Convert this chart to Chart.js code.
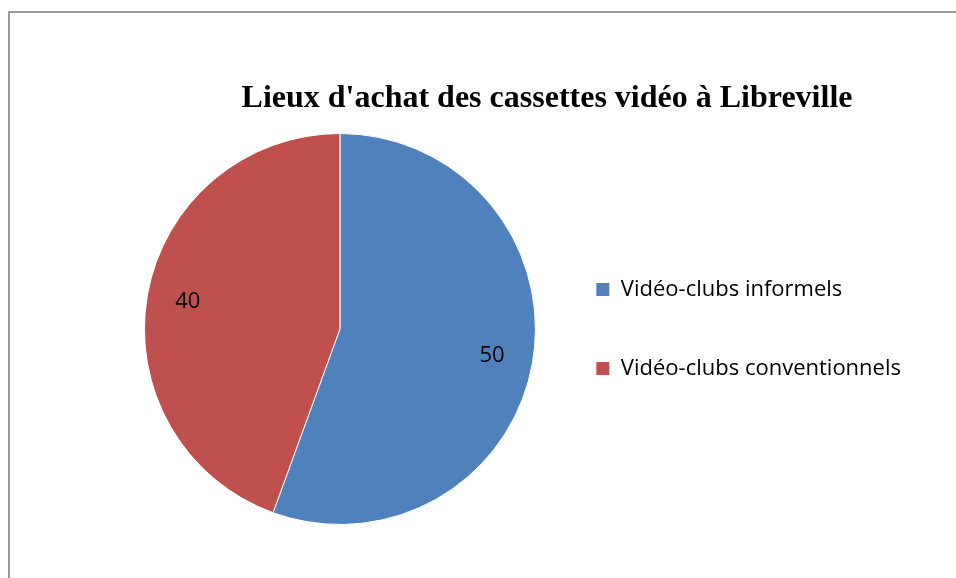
<!DOCTYPE html>
<html>
<head>
<meta charset="utf-8">
<script src="https://cdn.jsdelivr.net/npm/chart.js@4.4.1/dist/chart.umd.min.js"></script>
<style>
  html, body { margin: 0; padding: 0; background: #fff; overflow: hidden; }
  #frame { position: absolute; left: 8px; top: 11px; width: 1200px; height: 1000px; border: 2px solid #9a9a9a; }
  #wrap { position: absolute; left: 0; top: 0; width: 956px; height: 578px; }
</style>
</head>
<body>
<div id="frame"></div>
<div id="wrap"><canvas id="pieCanvas"></canvas></div>
<script>
// Lieux d'achat des cassettes vidéo à Libreville
const titre = "Lieux d'achat des cassettes vidéo à Libreville";
const categories = ['Vidéo-clubs informels', 'Vidéo-clubs conventionnels'];
const valeurs = [50, 40];
const couleurs = ['#4F81BD', '#C0504D'];

// étiquettes de valeur posées dans chaque part
const valeursPlugin = {
  id: 'valeursPlugin',
  afterDatasetsDraw(chart) {
    const ctx = chart.ctx;
    const meta = chart.getDatasetMeta(0);
    ctx.save();
    ctx.font = '22px "Open Sans"';
    ctx.fillStyle = '#000';
    ctx.textAlign = 'center';
    ctx.textBaseline = 'middle';
    meta.data.forEach((arc, i) => {
      const p = arc.getProps(['x', 'y', 'startAngle', 'endAngle', 'outerRadius']);
      const mid = (p.startAngle + p.endAngle) / 2;
      const r = p.outerRadius * 0.79;
      ctx.fillText(String(valeurs[i]), p.x + Math.cos(mid) * r, p.y + Math.sin(mid) * r);
    });
    ctx.restore();
  }
};

// boîte vide à droite de la légende (le cadre du graphique continue au-delà)
const espaceDroit = {
  id: 'espaceDroit',
  start(chart) {
    Chart.layouts.addBox(chart, {
      position: 'right',
      weight: 1500,
      fullSize: false,
      options: { display: false },
      isHorizontal() { return false; },
      update(maxWidth, maxHeight) { this.width = 42; this.height = maxHeight; },
      draw() {}
    });
  }
};

const ctx = document.getElementById('pieCanvas').getContext('2d');
new Chart(ctx, {
  type: 'pie',
  data: {
    labels: categories,
    datasets: [{
      data: valeurs,
      backgroundColor: couleurs,
      borderColor: '#ffffff',
      borderWidth: 1
    }]
  },
  options: {
    responsive: true,
    maintainAspectRatio: false,
    animation: false,
    layout: { padding: { left: 141, right: 3, top: 0, bottom: 53 } },
    plugins: {
      title: {
        display: true,
        text: titre,
        color: '#000',
        font: { family: 'Liberation Serif', size: 32, weight: 'bold' },
        padding: { top: 80, bottom: 14.6 }
      },
      legend: {
        position: 'right',
        fullSize: false,
        labels: {
          color: '#000',
          font: { family: 'Open Sans', size: 22 },
          boxWidth: 14,
          boxHeight: 14,
          padding: 57
        }
      },
      tooltip: { enabled: false }
    }
  },
  plugins: [valeursPlugin, espaceDroit]
});
</script>
</body>
</html>
